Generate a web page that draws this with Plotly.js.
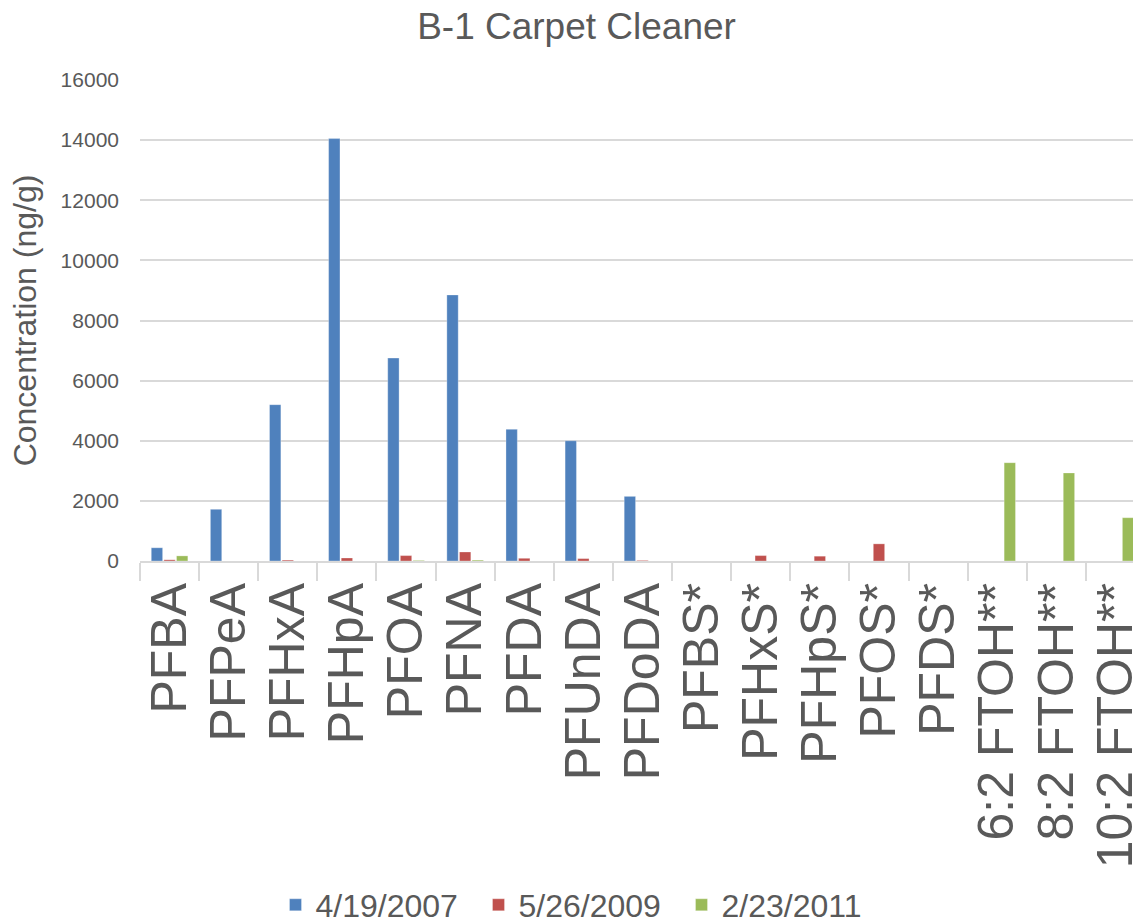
<!DOCTYPE html>
<html><head><meta charset="utf-8">
<script src="https://cdn.plot.ly/plotly-3.0.1.min.js"></script>
<style>html,body{margin:0;padding:0;overflow:hidden;background:#fff}</style>
</head><body><div id="chart"></div>
<script>
const categories = ["PFBA","PFPeA","PFHxA","PFHpA","PFOA","PFNA","PFDA","PFUnDA","PFDoDA","PFBS*","PFHxS*","PFHpS*","PFOS*","PFDS*","6:2 FTOH**","8:2 FTOH**","10:2 FTOH**"];
const seriesNames = ["4/19/2007","5/26/2009","2/23/2011"];
const s2007 = [440,1720,5200,14050,6750,8850,4380,4000,2150,0,0,0,0,0,0,0,0];
const s2009 = [40,0,30,100,180,300,90,80,20,0,180,160,570,0,0,0,0];
const s2011 = [170,0,0,0,20,30,0,0,0,0,0,0,0,0,3270,2930,1440];
const colors = ["#4F81BD","#C0504D","#9BBB59"];

const data = [s2007,s2009,s2011].map((vals,i)=>({
  type:'bar', x:categories, y:vals, name:seriesNames[i],
  marker:{color:colors[i], line:{color:'rgba(255,255,255,0.6)', width:0.5}}
}));

const layout = {
  width:1160, height:923,
  margin:{l:140, r:15, t:80, b:362},
  paper_bgcolor:'#fff', plot_bgcolor:'#fff',
  font:{family:'Liberation Sans, Arial, sans-serif', color:'#595959'},
  title:{text:'B-1 Carpet Cleaner', font:{size:37, color:'#595959'}, xref:'container', x:0.497, xanchor:'center', yref:'container', y:0.972, yanchor:'middle'},
  barmode:'group', bargap:0.36, bargroupgap:0.1,
  xaxis:{type:'category', tickmode:'linear', tick0:0, dtick:1, tickangle:-90, tickfont:{size:50, color:'#595959'},
    showline:true, linecolor:'#d9d9d9', linewidth:2,
    ticks:'outside', tickson:'boundaries', ticklen:18, tickcolor:'#d9d9d9', tickwidth:2,
    showgrid:false, range:[-0.5,16.5]},
  yaxis:{range:[0,16000], dtick:2000, tickformat:'d', gridcolor:'#d9d9d9', gridwidth:1.5,
    tickfont:{size:21, color:'#595959'}, zeroline:false, ticklabelstandoff:20,
    title:{text:'Concentration (ng/g)', font:{size:32, color:'#595959'}, standoff:14}},
  showlegend:true,
  legend:{orientation:'h', xref:'container', x:0.5, xanchor:'center', yref:'container', y:0.0195, yanchor:'middle',
    font:{size:32, color:'#595959'}, itemwidth:30, entrywidth:158, entrywidthmode:'pixels', traceorder:'normal'}
};
Plotly.newPlot('chart', data, layout, {displayModeBar:false});
</script></body></html>
